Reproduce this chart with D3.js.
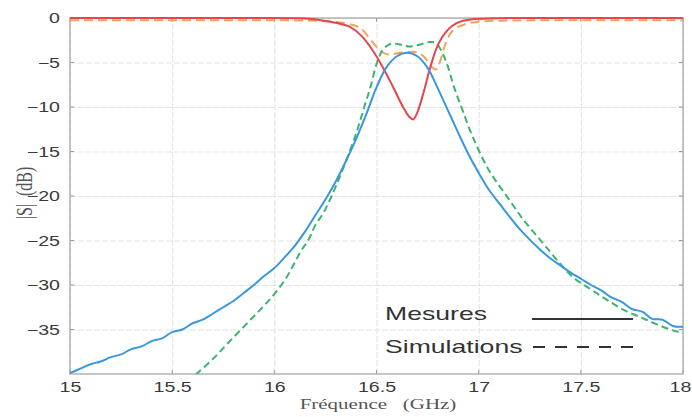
<!DOCTYPE html>
<html><head><meta charset="utf-8">
<script src="https://cdn.jsdelivr.net/npm/d3@7"></script>
<style>html,body{margin:0;padding:0;background:#fff;}svg{display:block;}</style>
</head><body>
<svg id="chart" width="692" height="417"></svg>
<script>
// ---- data (frequency in GHz, level in dB) ----
const xTicks = [15, 15.5, 16, 16.5, 17, 17.5, 18];
const yTicks = [0, -5, -10, -15, -20, -25, -30, -35];

const s21MesF = [15.00,15.05,15.10,15.15,15.20,15.25,15.30,15.35,15.40,15.45,15.50,15.55,15.60,15.65,15.70,15.75,15.80,15.85,15.90,15.95,16.00,16.05,16.10,16.15,16.20,16.25,16.30,16.35,16.40,16.45,16.50,16.55,16.60,16.65,16.70,16.75,16.80,16.85,16.90,16.95,17.00,17.05,17.10,17.15,17.20,17.25,17.30,17.35,17.40,17.45,17.50,17.55,17.60,17.65,17.70,17.75,17.80,17.85,17.90,17.95,18.00];
const s21MesDb = [-39.9,-39.4,-38.9,-38.6,-38.1,-37.8,-37.2,-36.9,-36.3,-36.0,-35.3,-35.0,-34.3,-33.9,-33.2,-32.5,-31.8,-30.9,-30.0,-29.0,-28.1,-26.9,-25.6,-24.0,-22.2,-20.4,-18.4,-16.1,-13.6,-10.8,-7.8,-5.5,-4.3,-3.9,-4.3,-5.6,-7.9,-10.4,-12.9,-15.3,-17.4,-19.3,-20.8,-22.3,-23.7,-24.9,-26.0,-27.0,-27.8,-28.6,-29.3,-30.0,-30.6,-31.4,-31.9,-32.7,-33.0,-33.8,-33.9,-34.6,-34.7];

const s21SimF = [15.58,15.62,15.70,15.77,15.85,15.93,15.99,16.05,16.09,16.13,16.17,16.20,16.24,16.29,16.34,16.40,16.44,16.47,16.50,16.53,16.57,16.62,16.66,16.71,16.76,16.79,16.82,16.85,16.88,16.92,16.97,17.05,17.14,17.22,17.30,17.38,17.46,17.55,17.63,17.71,17.79,17.87,17.95,18.00];
const s21SimDb = [-41.0,-40.0,-38.3,-36.6,-34.7,-32.8,-31.3,-29.5,-27.9,-26.2,-24.8,-23.3,-21.9,-19.5,-16.7,-13.0,-10.0,-7.8,-5.2,-3.6,-2.9,-3.0,-3.2,-3.0,-2.7,-2.8,-3.8,-5.5,-7.8,-10.3,-13.3,-17.1,-20.1,-22.7,-24.9,-27.1,-29.1,-30.5,-31.7,-32.8,-33.6,-34.4,-35.1,-35.4];

const s11MesF = [15.00,15.50,16.00,16.10,16.18,16.27,16.33,16.37,16.43,16.48,16.53,16.58,16.63,16.66,16.68,16.70,16.73,16.76,16.79,16.82,16.85,16.89,16.97,17.05,17.20,18.00];
const s11MesDb = [0,0,0,-0.03,-0.1,-0.4,-0.7,-1.0,-2.1,-3.6,-5.5,-7.7,-10.0,-11.1,-11.4,-10.6,-8.4,-5.8,-3.6,-2.2,-1.3,-0.6,-0.15,-0.05,0,0];

const s11SimF = [15.00,15.50,16.00,16.10,16.20,16.27,16.37,16.43,16.48,16.52,16.56,16.62,16.68,16.73,16.77,16.79,16.81,16.83,16.86,16.91,16.99,17.10,17.50,18.00];
const s11SimDb = [-0.25,-0.25,-0.25,-0.27,-0.3,-0.4,-0.7,-1.3,-2.7,-3.7,-4.1,-3.9,-3.8,-4.3,-5.5,-5.8,-5.0,-3.4,-1.8,-0.9,-0.45,-0.3,-0.25,-0.25];

const legendLabels = ["Mesures", "Simulations"];

// ---- layout ----
const svg = d3.select("#chart");
const L = 70, R = 683, T = 18, B = 374;
const SX = 1.4; // horizontal stretch of text, as in the reference
const x = d3.scaleLinear().domain([15, 18]).range([L, R]);
const y = d3.scaleLinear().domain([-40, 0]).range([B, T]);

// grid
const gx = svg.append("g").attr("transform", `translate(0,${B})`)
  .call(d3.axisBottom(x).tickValues(xTicks).tickSize(-(B - T)).tickFormat(d => d3.format("")(d)));
gx.select(".domain").remove();
gx.selectAll(".tick line").attr("stroke", "#e2e2e2").attr("stroke-dasharray", "6,2");
gx.selectAll(".tick text")
  .attr("y", null).attr("dy", null)
  .attr("transform", d => `translate(${d === 18 ? -3 : 0},18) scale(${SX},1)`)
  .attr("font-family", "Liberation Sans, Arial, sans-serif").attr("font-size", 14)
  .attr("fill", "#3a3a3a").attr("text-anchor", "middle");

const gy = svg.append("g").attr("transform", `translate(${L},0)`)
  .call(d3.axisLeft(y).tickValues(yTicks).tickSize(-(R - L)).tickFormat(d => d3.format("")(d)));
gy.select(".domain").remove();
gy.selectAll(".tick line").attr("stroke", "#e2e2e2").attr("stroke-dasharray", "6,2");
gy.selectAll(".tick text")
  .attr("x", null).attr("dy", "0.35em")
  .attr("transform", `translate(-10,0) scale(${SX},1)`)
  .attr("font-family", "Liberation Sans, Arial, sans-serif").attr("font-size", 14)
  .attr("fill", "#3a3a3a").attr("text-anchor", "end");

// inward tick marks on the frame
const tk = svg.append("g").attr("stroke", "#9a9a9a").attr("stroke-width", 1);
xTicks.forEach(v => {
  tk.append("line").attr("x1", x(v)).attr("x2", x(v)).attr("y1", B).attr("y2", B - 4);
  tk.append("line").attr("x1", x(v)).attr("x2", x(v)).attr("y1", T).attr("y2", T + 4);
});
yTicks.forEach(v => {
  tk.append("line").attr("x1", L).attr("x2", L + 4).attr("y1", y(v)).attr("y2", y(v));
  tk.append("line").attr("x1", R).attr("x2", R - 4).attr("y1", y(v)).attr("y2", y(v));
});
svg.append("rect").attr("x", L).attr("y", T).attr("width", R - L).attr("height", B - T)
  .attr("fill", "none").attr("stroke", "#a8a8a8").attr("stroke-width", 1.3);

// clip
svg.append("clipPath").attr("id", "clip").append("rect")
  .attr("x", L).attr("y", T - 3).attr("width", R - L).attr("height", B - T + 3);

const lineSmooth = d3.line().x(d => x(d[0])).y(d => y(d[1])).curve(d3.curveCatmullRom.alpha(0.5));
const lineMono = d3.line().x(d => x(d[0])).y(d => y(d[1])).curve(d3.curveMonotoneX);
const zip = (a, b) => a.map((v, i) => [v, b[i]]);
const plot = svg.append("g").attr("clip-path", "url(#clip)").attr("fill", "none")
  .attr("stroke-linejoin", "round");

plot.append("path").datum(zip(s11SimF, s11SimDb)).attr("d", lineMono)
  .attr("stroke", "#f2a35a").attr("stroke-width", 2).attr("stroke-dasharray", "9,5");
plot.append("path").datum(zip(s21SimF, s21SimDb)).attr("d", lineSmooth)
  .attr("stroke", "#3db36f").attr("stroke-width", 2).attr("stroke-dasharray", "7,4");
plot.append("path").datum(zip(s11MesF, s11MesDb)).attr("d", lineMono)
  .attr("stroke", "#e4474b").attr("stroke-width", 2);
plot.append("path").datum(zip(s21MesF, s21MesDb)).attr("d", lineSmooth)
  .attr("stroke", "#3898dc").attr("stroke-width", 2);

// legend
const lg = svg.append("g");
lg.append("text").attr("transform", `translate(385,320) scale(${SX},1)`)
  .attr("font-family", "Liberation Sans, Arial, sans-serif").attr("font-size", 19)
  .attr("fill", "#333").text(legendLabels[0]);
lg.append("text").attr("transform", `translate(385,353) scale(${SX},1)`)
  .attr("font-family", "Liberation Sans, Arial, sans-serif").attr("font-size", 19)
  .attr("fill", "#333").text(legendLabels[1]);
lg.append("line").attr("x1", 532).attr("x2", 633).attr("y1", 319).attr("y2", 319)
  .attr("stroke", "#333").attr("stroke-width", 2);
lg.append("line").attr("x1", 533).attr("x2", 633).attr("y1", 347).attr("y2", 347)
  .attr("stroke", "#333").attr("stroke-width", 2).attr("stroke-dasharray", "12,10");

// axis titles
svg.append("text").attr("transform", `translate(378,409) scale(${SX},1)`)
  .attr("text-anchor", "middle").attr("font-family", "Liberation Serif, Times New Roman, serif")
  .attr("font-size", 15).attr("fill", "#555").attr("xml:space", "preserve")
  .text("Fréquence   (GHz)");
svg.append("text").attr("transform", `translate(32,193) scale(${SX},1) rotate(-90)`)
  .attr("text-anchor", "middle").attr("font-family", "Liberation Serif, Times New Roman, serif")
  .attr("font-size", 16).attr("fill", "#555").attr("xml:space", "preserve")
  .text("|S|  (dB)");
</script>
</body></html>
